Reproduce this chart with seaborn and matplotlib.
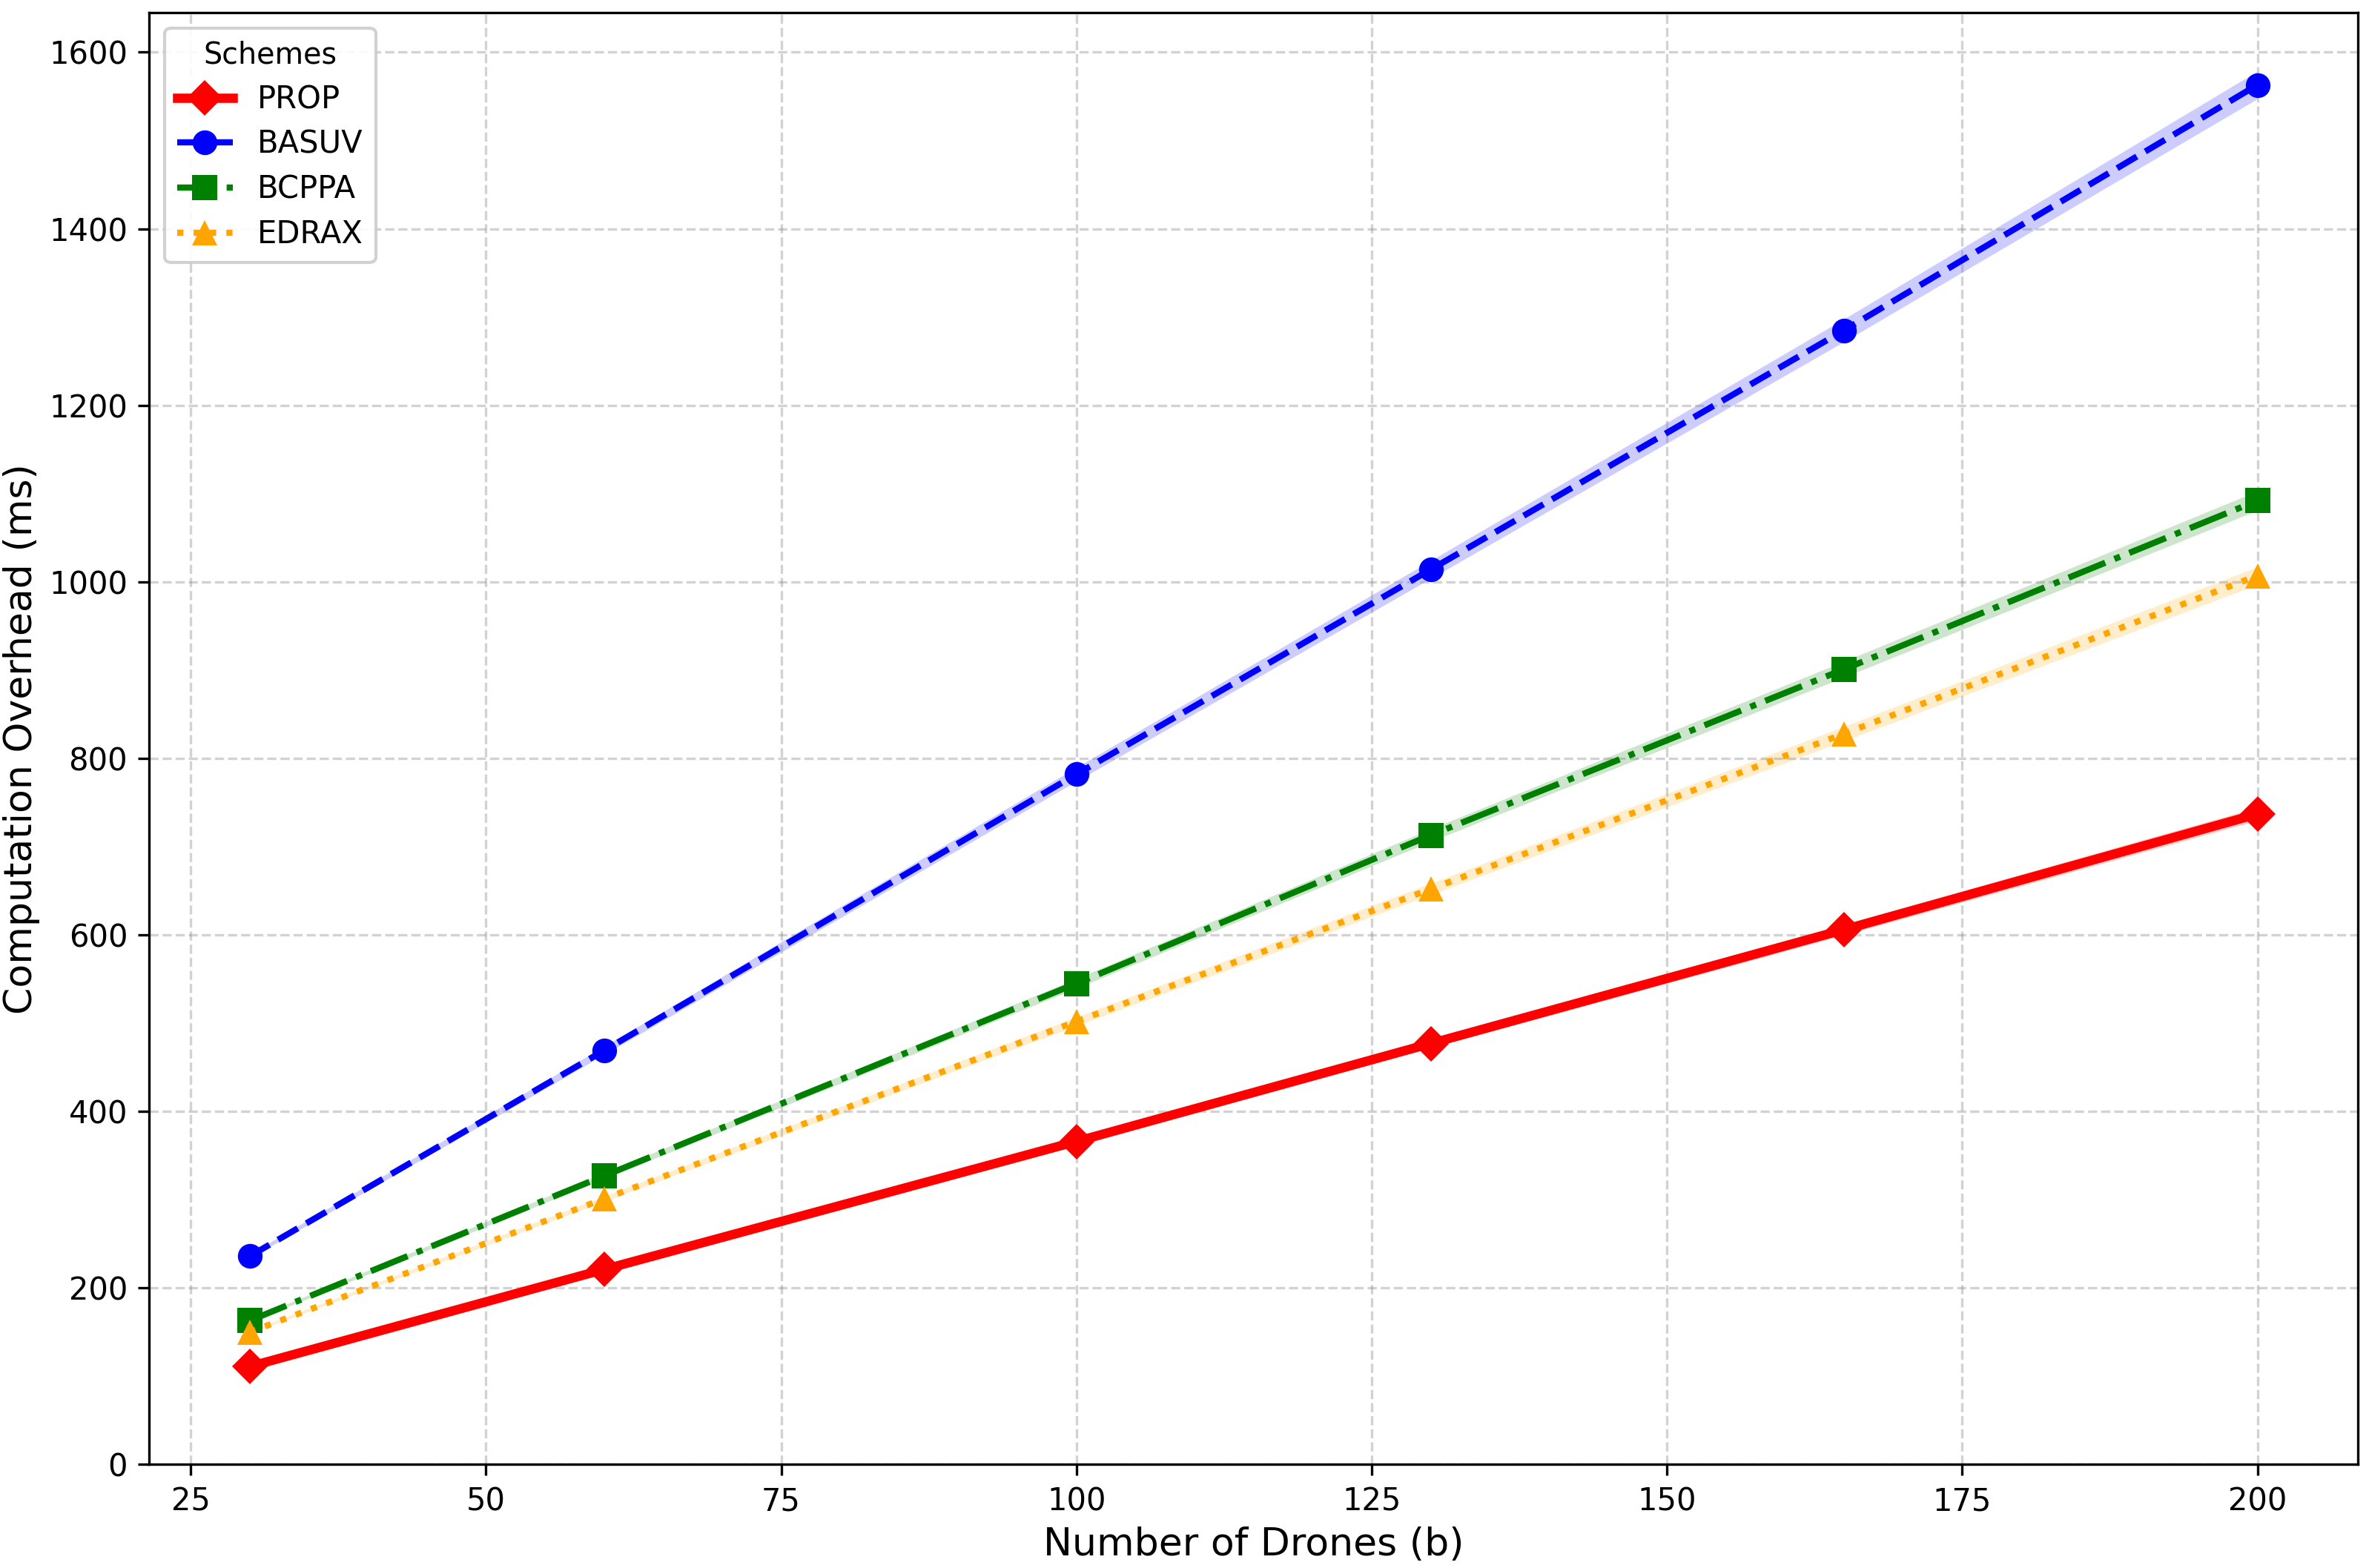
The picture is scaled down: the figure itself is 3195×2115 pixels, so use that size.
import numpy as np
import pandas as pd
import matplotlib
matplotlib.use('Agg')
import matplotlib.pyplot as plt
import seaborn as sns

# Data
drones = [30, 60, 100, 130, 165, 200]
prop = [111, 221, 366, 477, 606, 737]
basuv = [236, 469, 782, 1014, 1285, 1563]
bcppa = [163, 327, 545, 713, 901, 1092]
edrax = [150, 301, 502, 652, 828, 1007]

schemes = ['PROP', 'BASUV', 'BCPPA', 'EDRAX']
series = [prop, basuv, bcppa, edrax]
colors = ['red', 'blue', 'green', 'orange']
markers = ['D', 'o', 's', '^']
linestyles = ['-', '--', '-.', ':']
widths = [3.0, 2.0, 2.0, 2.0]

# Long-format table for seaborn
df = pd.DataFrame({
    'Drones': drones * len(schemes),
    'Overhead': sum(series, []),
    'Scheme': np.repeat(schemes, len(drones)),
})

fig, ax = plt.subplots(figsize=(10.653, 7.05), dpi=300)
fig.subplots_adjust(left=0.063, right=0.995, bottom=0.066, top=0.992)

for name, c, m, ls, lw in zip(schemes, colors, markers, linestyles, widths):
    sub = df[df['Scheme'] == name]
    y = sub['Overhead'].to_numpy(dtype=float)
    ax.fill_between(sub['Drones'], y * 0.99, y * 1.01, color=c, alpha=0.2, linewidth=0)
    sns.lineplot(data=sub, x='Drones', y='Overhead', ax=ax, color=c, marker=m,
                 linestyle=ls, linewidth=lw, markersize=8, markeredgewidth=0,
                 label=name)

ax.set_ylim(0, 1645)
ax.set_yticks(range(0, 1601, 200))
ax.set_xlabel('Number of Drones (b)', fontsize=12.5, labelpad=3)
ax.set_ylabel('Computation Overhead (ms)', fontsize=12.5, labelpad=3)
ax.tick_params(labelsize=10)
ax.grid(True, linestyle='--', color='gray', alpha=0.35, linewidth=0.8)
ax.legend(title='Schemes', loc='upper left', fontsize=10, title_fontsize=9.5,
          framealpha=0.9, handlelength=1.8, labelspacing=0.45)

plt.savefig('out.png', dpi=300)
plt.close()
